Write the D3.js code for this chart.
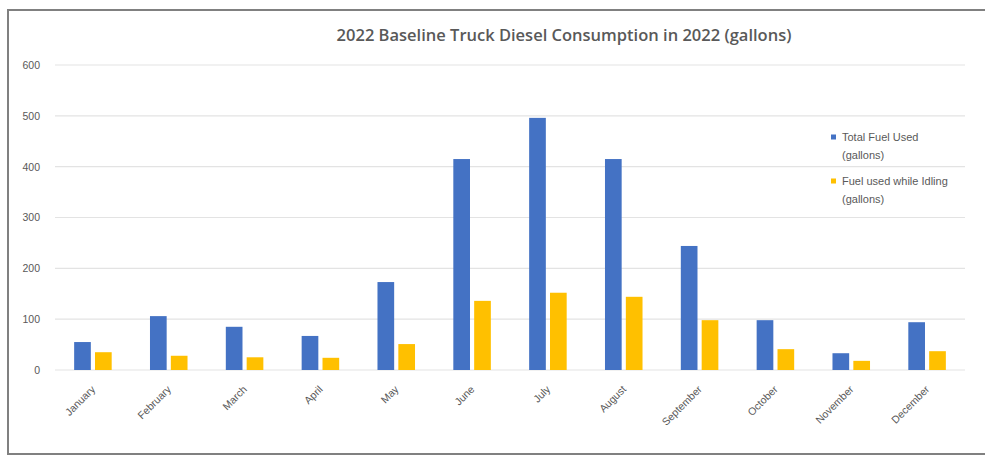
<!DOCTYPE html>
<html>
<head>
<meta charset="utf-8">
<script src="https://cdn.jsdelivr.net/npm/d3@7"></script>
<style>
  html, body { margin: 0; padding: 0; background: #fff; }
  svg { display: block; }
</style>
</head>
<body>
<script>
const months = ["January","February","March","April","May","June","July","August","September","October","November","December"];
const totalFuel = [55, 106, 85, 67, 173, 415, 496, 415, 244, 98, 33, 94];
const idleFuel  = [35, 28, 25, 24, 51, 136, 152, 144, 98, 41, 18, 37];
const seriesNames = ["Total Fuel Used (gallons)", "Fuel used while Idling (gallons)"];
const legendLines = [["Total Fuel Used", "(gallons)"], ["Fuel used while Idling", "(gallons)"]];
const yTicks = [0, 100, 200, 300, 400, 500, 600];
const titleText = "2022 Baseline Truck Diesel Consumption in 2022 (gallons)";

const W = 985, H = 456;
const colors = ["#4472C4", "#FFC000"];
const textColor = "#595959";

const svg = d3.select("body").append("svg").attr("width", W).attr("height", H);

// outer frame
svg.append("rect").attr("x", 8).attr("y", 10).attr("width", 1010).attr("height", 444)
  .attr("fill", "#fff").attr("stroke", "#808080").attr("stroke-width", 2);

const x0 = d3.scaleBand().domain(months).range([55, 965]).paddingInner(0.505).paddingOuter(0.2525);
const x1 = d3.scaleBand().domain(seriesNames).range([0, x0.bandwidth()]).paddingInner(0.2);
const y = d3.scaleLinear().domain([0, 600]).range([370, 65]);

// gridlines
svg.append("g").selectAll("line").data(yTicks).join("line")
  .attr("x1", 55).attr("x2", 965)
  .attr("y1", d => y(d)).attr("y2", d => y(d))
  .attr("stroke", "#e3e3e3").attr("stroke-width", 1.2);

// y axis labels
const yAxis = d3.axisLeft(y).tickValues(yTicks).tickSize(0).tickPadding(0);
const gy = svg.append("g").attr("transform", "translate(40,0)").call(yAxis);
gy.select(".domain").remove();
gy.selectAll("text").attr("fill", textColor).attr("font-family", "Liberation Sans, Arial, sans-serif")
  .attr("font-size", 10.5).attr("dy", "0.32em");

// bars
const data = months.map((m, i) => ({ month: m, values: [totalFuel[i], idleFuel[i]] }));
const groups = svg.append("g").selectAll("g").data(data).join("g")
  .attr("transform", d => `translate(${x0(d.month)},0)`);
groups.selectAll("rect").data(d => d.values.map((v, k) => ({ key: seriesNames[k], v, k })))
  .join("rect")
  .attr("x", d => x1(d.key))
  .attr("width", x1.bandwidth())
  .attr("y", d => y(d.v))
  .attr("height", d => y(0) - y(d.v))
  .attr("fill", d => colors[d.k]);

// x axis labels
const xAxis = d3.axisBottom(x0).tickSize(0).tickPadding(0);
const gx = svg.append("g").attr("transform", `translate(0,${y(0)})`).call(xAxis);
gx.select(".domain").remove();
gx.selectAll("text")
  .attr("fill", textColor).attr("font-family", "Liberation Sans, Arial, sans-serif")
  .attr("font-size", 10.5)
  .attr("text-anchor", "end")
  .attr("dy", 0).attr("y", 0)
  .attr("transform", "translate(3,20) rotate(-45)");

// title
svg.append("text").attr("x", 564).attr("y", 41).attr("text-anchor", "middle")
  .attr("font-family", "Open Sans, sans-serif").attr("font-weight", 600)
  .attr("font-size", 16.5).attr("fill", "#595959").text(titleText);

// legend
const leg = svg.append("g");
legendLines.forEach((lines, k) => {
  const ly = 137 + k * 44;
  leg.append("rect").attr("x", 831).attr("y", ly - 2.5).attr("width", 5).attr("height", 5).attr("fill", colors[k]);
  lines.forEach((t, j) => {
    leg.append("text").attr("x", 842).attr("y", ly + j * 18).attr("dy", "0.35em")
      .attr("font-family", "Liberation Sans, Arial, sans-serif").attr("font-size", 11)
      .attr("fill", textColor).text(t);
  });
});
</script>
</body>
</html>
